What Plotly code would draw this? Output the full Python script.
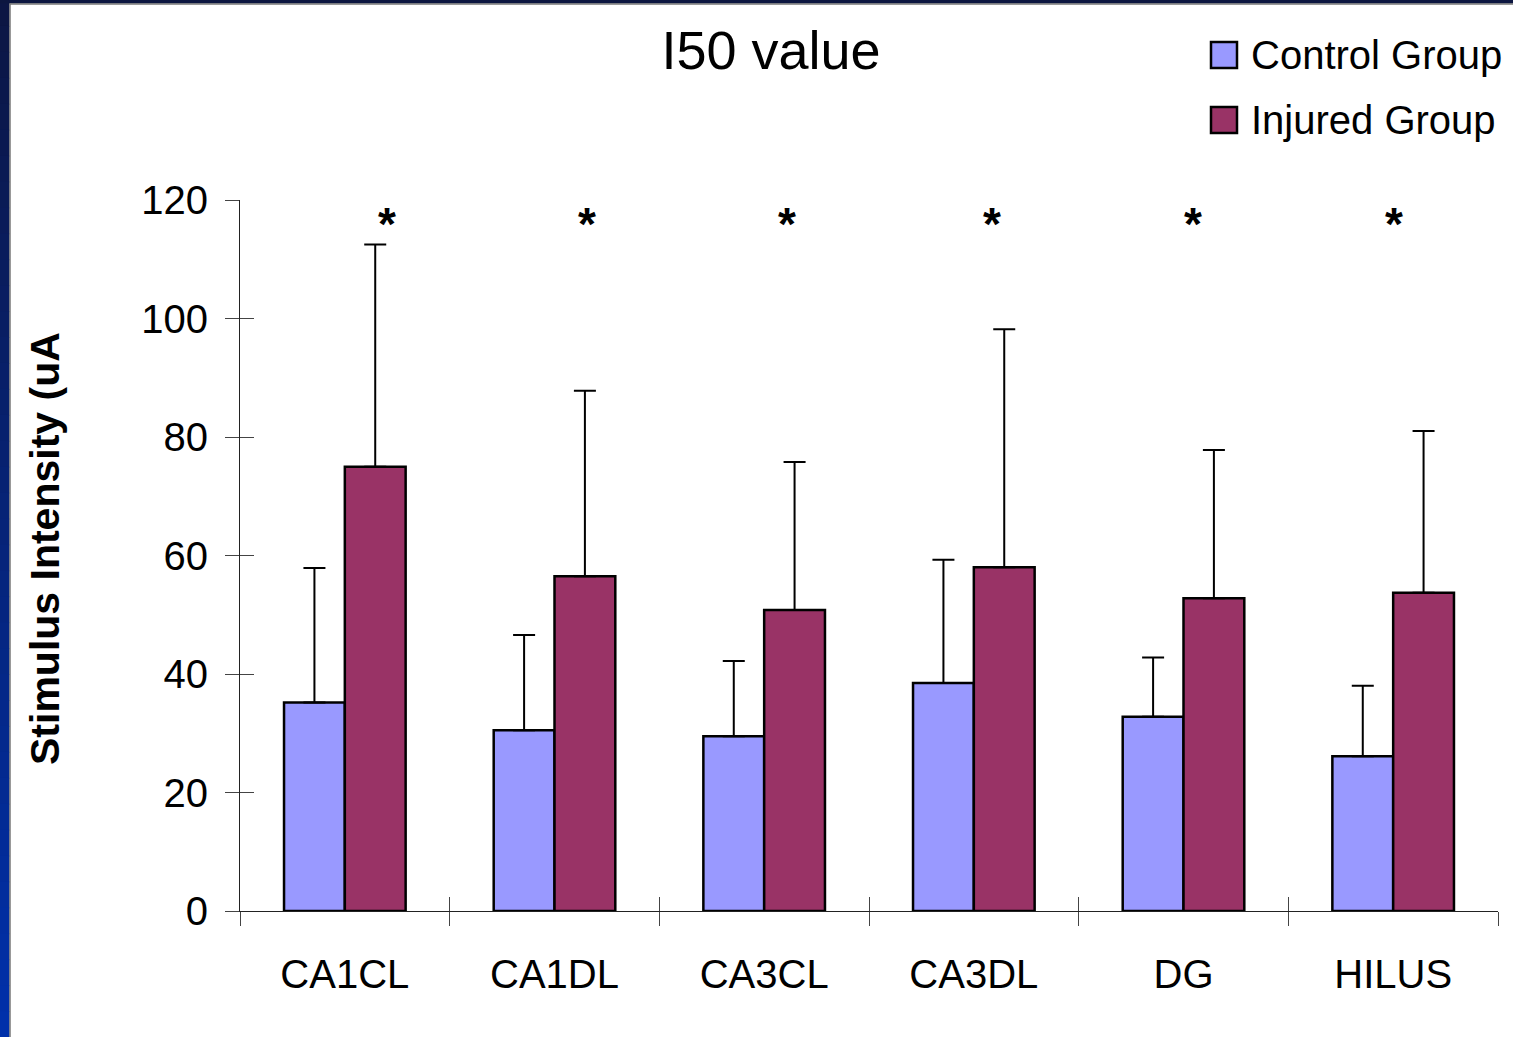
import plotly.graph_objects as go

# --- data -------------------------------------------------------------
regions = ["CA1CL", "CA1DL", "CA3CL", "CA3DL", "DG", "HILUS"]
series_names = ["Control Group", "Injured Group"]
control_mean = [35.2, 30.5, 29.5, 38.5, 32.8, 26.1]
control_sd = [22.7, 16.1, 12.7, 20.8, 10.0, 11.9]
injured_mean = [75.0, 56.5, 50.8, 58.0, 52.8, 53.7]
injured_sd = [37.5, 31.3, 25.0, 40.2, 25.0, 27.3]
significant = ["*", "*", "*", "*", "*", "*"]
y_ticks = [0, 20, 40, 60, 80, 100, 120]

# --- page geometry ----------------------------------------------------
W, H = 1513, 1037
M_L, M_R, M_T, M_B = 240, 15, 200, 126
PW, PH = W - M_L - M_R, H - M_T - M_B
FONT = "Liberation Sans, Arial, sans-serif"
C_CTRL = "#9999FF"
C_INJ = "#993366"


def px_x(p):
    """page pixel -> paper x"""
    return (p - M_L) / PW


def px_y(p):
    """page pixel (from top) -> paper y"""
    return (H - M_B - p) / PH


fig = go.Figure()

fig.add_trace(go.Bar(
    x=regions, y=control_mean, name=series_names[0],
    marker=dict(color=C_CTRL, line=dict(color="black", width=2.5)),
    error_y=dict(type="data", symmetric=False, array=control_sd,
                 arrayminus=[0] * len(control_sd),
                 color="black", thickness=2, width=11),
    showlegend=False,
))
fig.add_trace(go.Bar(
    x=regions, y=injured_mean, name=series_names[1],
    marker=dict(color=C_INJ, line=dict(color="black", width=2.5)),
    error_y=dict(type="data", symmetric=False, array=injured_sd,
                 arrayminus=[0] * len(injured_sd),
                 color="black", thickness=2, width=11),
    showlegend=False,
))

# invisible helper trace so the overlay axes carry tick marks on the inner side
fig.add_trace(go.Scatter(x=[-0.5, len(regions) - 0.5], y=[0, 0], xaxis="x2", yaxis="y2",
                         mode="lines", line=dict(width=0), hoverinfo="skip",
                         showlegend=False))

fig.update_layout(
    width=W, height=H, autosize=False,
    margin=dict(l=M_L, r=M_R, t=M_T, b=M_B),
    paper_bgcolor="white", plot_bgcolor="white",
    font=dict(family=FONT, color="black", size=40),
    barmode="group", bargap=0.42, bargroupgap=0.0,
    title=dict(text="I50 value", x=771 / W, xanchor="center",
               y=1 - 50 / H, yanchor="middle", yref="container",
               font=dict(family=FONT, size=54, color="black")),
    xaxis=dict(type="category", categoryarray=regions, range=[-0.5, 5.5],
               showline=True, linecolor="#222", linewidth=1,
               ticks="outside", ticklen=14, tickwidth=1, tickcolor="#444",
               tickson="boundaries", showgrid=False, zeroline=False,
               ticklabelstandoff=28, tickfont=dict(size=40)),
    yaxis=dict(range=[0, 120], tickvals=y_ticks, showline=True,
               linecolor="#222", linewidth=1, ticks="outside", ticklen=14,
               tickwidth=1, tickcolor="#444", showgrid=False, zeroline=False,
               ticklabelstandoff=9, tickfont=dict(size=40)),
    xaxis2=dict(overlaying="x", anchor="y2", range=[-0.5, 5.5],
                tickvals=[i - 0.5 for i in range(len(regions) + 1)],
                ticks="inside", ticklen=14, tickwidth=1, tickcolor="#444",
                showticklabels=False, showgrid=False, zeroline=False,
                showline=False, side="bottom"),
    yaxis2=dict(overlaying="y", anchor="x2", range=[0, 120], tickvals=y_ticks,
                ticks="inside", ticklen=14, tickwidth=1, tickcolor="#444",
                showticklabels=False, showgrid=False, zeroline=False,
                showline=False, side="left"),
)

# y-axis title
fig.add_annotation(text="<b>Stimulus Intensity (uA</b>", textangle=-90,
                   xref="paper", yref="paper", x=px_x(45), y=px_y(549),
                   xanchor="center", yanchor="middle", showarrow=False,
                   font=dict(family=FONT, size=41, color="black"))

# significance markers above the injured bars
star_shift = [42, 32, 23, 18, 9, 1]
for reg, mark, sh in zip(regions, significant, star_shift):
    fig.add_annotation(text=f"<b>{mark}</b>", x=reg, y=117, xref="x", yref="y",
                       xshift=sh, yshift=-6, showarrow=False,
                       font=dict(family=FONT, size=46, color="black"))

# legend drawn as boxes + labels
legend_rows = [(C_CTRL, 42, 55), (C_INJ, 107, 120)]
for name, (col, top, mid) in zip(series_names, legend_rows):
    fig.add_shape(type="rect", xref="paper", yref="paper",
                  x0=px_x(1211), x1=px_x(1237), y0=px_y(top + 26), y1=px_y(top),
                  fillcolor=col, line=dict(color="black", width=2.5))
    fig.add_annotation(text=name, xref="paper", yref="paper",
                       x=px_x(1249), y=px_y(mid), xanchor="left", yanchor="middle",
                       showarrow=False, font=dict(family=FONT, size=40, color="black"))

# slide frame: gradient strip on the left, dark band on top
n_bands = 40
top_rgb, bot_rgb = (12, 22, 68), (0, 48, 170)
for i in range(n_bands):
    t = i / (n_bands - 1)
    rgb = tuple(round(a + (b - a) * t) for a, b in zip(top_rgb, bot_rgb))
    fig.add_shape(type="rect", xref="paper", yref="paper", layer="above",
                  x0=px_x(0), x1=px_x(9.5),
                  y0=px_y(H * (i + 1) / n_bands + 1), y1=px_y(H * i / n_bands),
                  fillcolor="rgb(%d,%d,%d)" % rgb, line=dict(width=0))
fig.add_shape(type="rect", xref="paper", yref="paper", layer="above",
              x0=px_x(0), x1=px_x(W), y0=px_y(3.5), y1=px_y(0),
              fillcolor="rgb(12,22,64)", line=dict(width=0))
fig.add_shape(type="line", xref="paper", yref="paper", layer="above",
              x0=px_x(10), x1=px_x(10), y0=px_y(H), y1=px_y(3.5),
              line=dict(color="#777", width=1.5))
fig.add_shape(type="line", xref="paper", yref="paper", layer="above",
              x0=px_x(10), x1=px_x(W), y0=px_y(4), y1=px_y(4),
              line=dict(color="#777", width=1.5))

fig.write_html("out.html")
